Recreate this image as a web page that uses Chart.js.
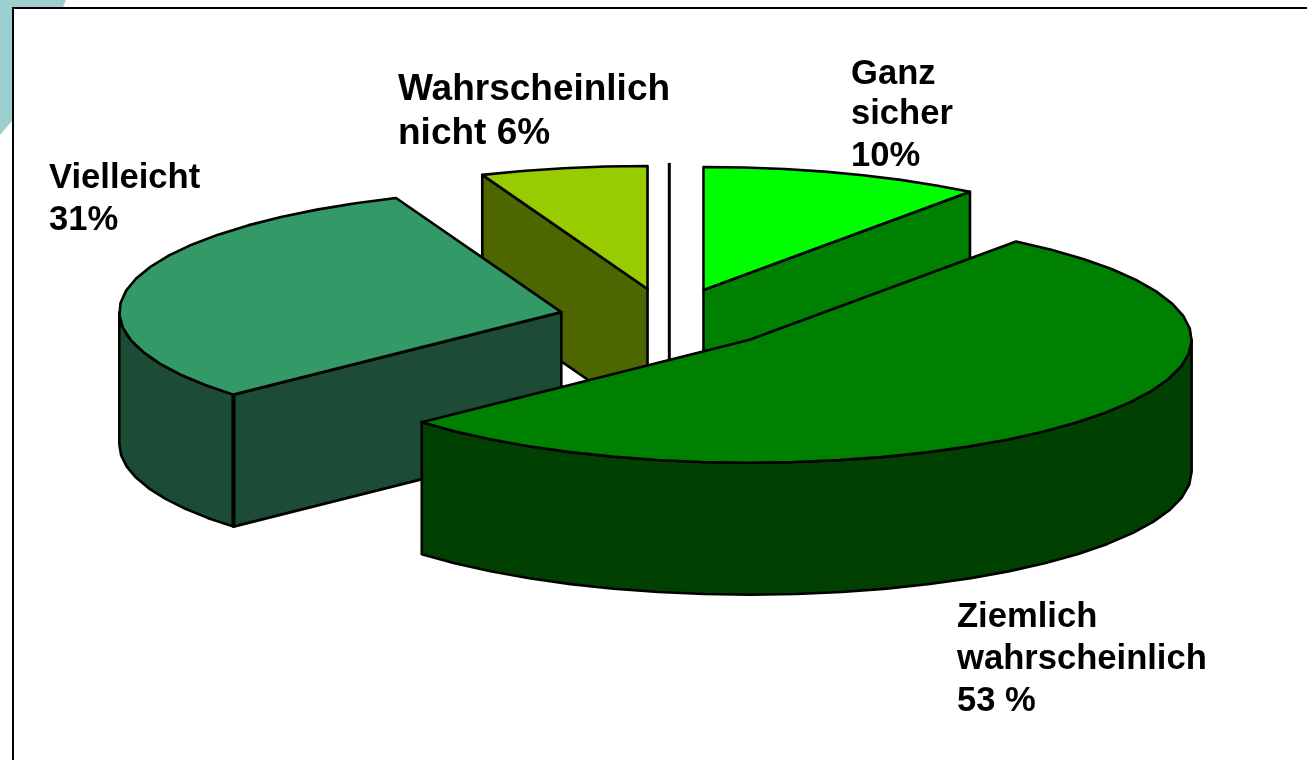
<!DOCTYPE html>
<html><head><meta charset="utf-8">
<style>html,body{margin:0;padding:0;background:#fff;overflow:hidden}#w{position:absolute;left:0;top:0;width:1307px;height:760px}</style>
<script src="https://cdn.jsdelivr.net/npm/chart.js@4/dist/chart.umd.min.js"></script>
</head><body><div id="w"><canvas id="c" width="1307" height="760"></canvas></div>
<script>
const categories = ["Ganz sicher", "Ziemlich wahrscheinlich", "Vielleicht", "Wahrscheinlich nicht"];
const values = [10.3, 53.0, 30.6, 6.1];
const topColors = ["#00ff00", "#008000", "#339966", "#99cc00"];
const wallColors = ["#008000", "#004000", "#1c4c36", "#4d6600"];
const labelLines = [["Ganz", "sicher", "10%"], ["Ziemlich", "wahrscheinlich", "53 %"], ["Vielleicht", "31%"], ["Wahrscheinlich", "nicht 6%"]];
const labelX = [851, 957, 49, 398];
const labelY = [[84, 124, 166], [627, 669, 711], [188, 230], [100, 144]];
const labelSize = [34.6, 34.6, 34.6, 37];
const paintOrder = [3, 0, 2, 1];

const view = {cx: 668.5, cy: 319, tilt: 0.2783, depth: 132, explode: 110, step: Math.PI / 30};

function pt(arc, a, z) {
  const m = (arc.startAngle + arc.endAngle) / 2;
  return [view.cx + Math.cos(m) * view.explode + Math.cos(a) * arc.outerRadius,
          view.cy + (Math.sin(m) * view.explode + Math.sin(a) * arc.outerRadius) * view.tilt + z];
}
function apex(arc, z) {
  const m = (arc.startAngle + arc.endAngle) / 2;
  return [view.cx + Math.cos(m) * view.explode, view.cy + Math.sin(m) * view.explode * view.tilt + z];
}
function poly(ctx, pts, fill, lw) {
  ctx.beginPath();
  pts.forEach((p, i) => i ? ctx.lineTo(p[0], p[1]) : ctx.moveTo(p[0], p[1]));
  ctx.closePath();
  if (fill) { ctx.fillStyle = fill; ctx.fill(); }
  ctx.lineWidth = lw || 2.6; ctx.strokeStyle = "#000"; ctx.lineJoin = "round"; ctx.stroke();
}
function arcPts(arc, a0, a1, z) {
  const out = [];
  const n = Math.max(1, Math.ceil((a1 - a0) / view.step));
  for (let i = 0; i <= n; i++) out.push(pt(arc, a0 + (a1 - a0) * i / n, z));
  return out;
}
function faceVisible(a, m) {
  if (Math.abs(Math.cos(a)) < 1e-6) return false;
  return Math.sin(m) < Math.tan(a) * Math.cos(m);
}
const pie3d = {
  id: "pie3d",
  beforeDraw(chart) {
    const ctx = chart.ctx;
    ctx.save();
    ctx.fillStyle = "#fff"; ctx.fillRect(0, 0, 1307, 760);
    ctx.fillStyle = "#9dcfd0";
    ctx.beginPath(); ctx.moveTo(0, 0); ctx.lineTo(66, 0); ctx.lineTo(63, 7); ctx.lineTo(13, 7); ctx.lineTo(13, 120); ctx.lineTo(0, 135); ctx.closePath(); ctx.fill();
    ctx.strokeStyle = "#000"; ctx.lineWidth = 2;
    ctx.beginPath(); ctx.moveTo(13, 760); ctx.lineTo(13, 8); ctx.lineTo(1307, 8); ctx.stroke();
    ctx.restore();
  },
  beforeDatasetDraw() { return false; },
  afterDatasetsDraw(chart) {
    const ctx = chart.ctx, arcs = chart.getDatasetMeta(0).data;
    ctx.save();
    paintOrder.forEach(i => {
      const arc = arcs[i], s = arc.startAngle, e = arc.endAngle, m = (s + e) / 2, d = view.depth;
      if (i === 1) { // centre line of the exploded pie, behind the front slice
        ctx.strokeStyle = "#000"; ctx.lineWidth = 3; ctx.beginPath();
        ctx.moveTo(view.cx + 0.8, pt(arcs[3], -Math.PI / 2, 0)[1] - 3); ctx.lineTo(view.cx + 0.8, view.cy + 60); ctx.stroke();
      }
      // cut faces turned towards the viewer
      [s, e].forEach(a => { if (faceVisible(a, m)) poly(ctx, [apex(arc, 0), pt(arc, a, 0), pt(arc, a, d), apex(arc, d)], wallColors[i]); });
      // outer rim, front half only
      const f0 = Math.max(s, 0), f1 = Math.min(e, Math.PI);
      if (f1 > f0) poly(ctx, arcPts(arc, f0, f1, 0).concat(arcPts(arc, f0, f1, d).reverse()), wallColors[i]);
      // top face, drawn by the library's own arc element under the flattening transform
      ctx.save();
      ctx.translate(view.cx, view.cy); ctx.scale(1, view.tilt);
      ctx.translate(Math.cos(m) * view.explode - arc.x, Math.sin(m) * view.explode - arc.y);
      arc.draw(ctx);
      ctx.restore();
      poly(ctx, [apex(arc, 0)].concat(arcPts(arc, s, e, 0)), null);
      // shared vertical edge of rim and cut face
      [s, e].forEach(a => {
        const ang = ((a % (2 * Math.PI)) + 2 * Math.PI) % (2 * Math.PI);
        if (ang > 0 && ang < Math.PI && faceVisible(a, m)) {
          const p = pt(arc, a, 0), q = pt(arc, a, d);
          ctx.strokeStyle = "#000"; ctx.lineWidth = 4; ctx.beginPath(); ctx.moveTo(p[0], p[1]); ctx.lineTo(q[0], q[1]); ctx.stroke();
        }
      });
    });
    ctx.restore();
  },
  afterDraw(chart) {
    const ctx = chart.ctx;
    ctx.save();
    ctx.fillStyle = "#000"; ctx.textAlign = "left"; ctx.textBaseline = "alphabetic";
    labelLines.forEach((lines, i) => {
      ctx.font = "bold " + labelSize[i] + "px 'Liberation Sans', Arial, sans-serif";
      lines.forEach((t, j) => ctx.fillText(t, labelX[i], labelY[i][j]));
    });
    ctx.restore();
  }
};
new Chart(document.getElementById("c"), {
  type: "pie",
  data: {labels: categories, datasets: [{data: values, backgroundColor: topColors, borderWidth: 0, offset: 0}]},
  options: {
    responsive: false, animation: false, radius: 442,
    layout: {padding: 0},
    plugins: {legend: {display: false}, tooltip: {enabled: false}}
  },
  plugins: [pie3d]
});
</script></body></html>
